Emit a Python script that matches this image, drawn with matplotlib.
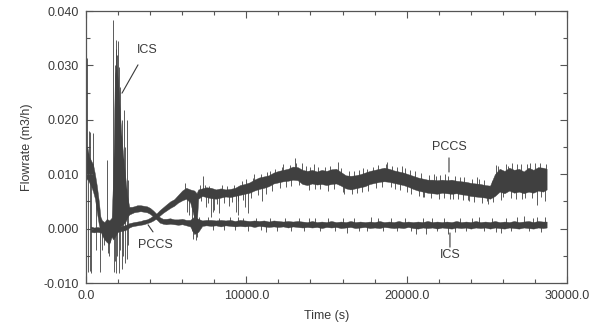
import numpy as np
import matplotlib
matplotlib.use('Agg')
import matplotlib.pyplot as plt
from matplotlib.ticker import MultipleLocator, FormatStrFormatter

# ICS band: time (s), lower and upper edge of the noisy trace (m3/h)
ics_t = [0, 80, 200, 320, 440, 560, 680, 800, 900, 1000, 1150, 1300, 1450, 1600,
         1700, 1800, 1900, 2000, 2100, 2200, 2300, 2400, 2500, 2600, 2700,
         2850, 3000, 3200, 3400, 3600, 3800, 4000, 4200, 4400, 4600, 4800,
         5000, 5250, 5500, 5750, 6000, 6250, 6500, 6750, 7000, 7250, 7500,
         7800, 8100, 8400, 8700, 9000, 9300, 9600, 9900, 10200, 10500, 10800,
         11100, 11400, 11700, 12000, 12300, 12600, 12900, 13200, 13500, 13800,
         14100, 14400, 14700, 15000, 15300, 15600, 15900, 16200, 16500, 16800,
         17100, 17400, 17700, 18000, 18300, 18600, 18900, 19200, 19500, 19800,
         20100, 20400, 20700, 21000, 21300, 21600, 21900, 22200, 22500, 22800,
         23100, 23400, 23700, 24000, 24300, 24600, 24900, 25200, 25500, 25800,
         26100, 26400, 26700, 27000, 27300, 27600, 27900, 28200, 28500, 28730]
ics_lo = [0.0088, 0.0092, 0.0085, 0.0078, 0.0068, 0.0055, 0.0030, 0.0008, -0.0004,
          -0.0012, -0.0020, -0.0025, -0.0028, -0.0015,
          -0.0020, -0.0015, -0.0010, -0.0005, 0.0000, 0.0005, 0.0008, 0.0010,
          0.0015, 0.0022, 0.0026,
          0.0028, 0.0030, 0.0031, 0.0032, 0.0031, 0.0030, 0.0027, 0.0022, 0.0017,
          0.0011, 0.0009,
          0.0008, 0.0009, 0.0008, 0.0007, 0.0008, 0.0006, 0.0004, -0.0010, -0.0006,
          0.0005, 0.0006,
          0.0005, 0.0006, 0.0004, 0.0006, 0.0005, 0.0004, 0.0005, 0.0004, 0.0005,
          0.0003, 0.0005, 0.0004, 0.0003, 0.0004, 0.0003, 0.0004, 0.0002, 0.0004,
          0.0003, 0.0002, 0.0003, 0.0002, 0.0003, 0.0001, 0.0003, 0.0002, 0.0003,
          0.0001, 0.0002, 0.0003, 0.0001, 0.0002, 0.0003, 0.0001, 0.0002, 0.0001,
          0.0003, 0.0002, 0.0001, 0.0002, 0.0001, 0.0003, 0.0001, 0.0000, 0.0002,
          0.0001, 0.0002, 0.0000, 0.0002, 0.0001, 0.0000, 0.0002, 0.0001, 0.0002,
          0.0000, 0.0002, 0.0001, 0.0002, 0.0000, 0.0002, 0.0001, 0.0000, 0.0002,
          0.0001, 0.0000, 0.0002, 0.0001, 0.0000, 0.0002, 0.0001, 0.0002]
ics_hi = [0.0140, 0.0150, 0.0132, 0.0125, 0.0118, 0.0100, 0.0078, 0.0050, 0.0022,
          0.0015, 0.0012, 0.0018, 0.0015, 0.0020,
          0.0100, 0.0280, 0.0300, 0.0270, 0.0220, 0.0175, 0.0140, 0.0110,
          0.0080, 0.0055, 0.0040,
          0.0040, 0.0041, 0.0043, 0.0043, 0.0042, 0.0041, 0.0038, 0.0033, 0.0027,
          0.0021, 0.0018,
          0.0018, 0.0019, 0.0017, 0.0017, 0.0018, 0.0016, 0.0016, 0.0022, 0.0018,
          0.0015, 0.0016,
          0.0016, 0.0015, 0.0016, 0.0015, 0.0016, 0.0014, 0.0016, 0.0015, 0.0014,
          0.0015, 0.0014, 0.0015, 0.0013, 0.0015, 0.0014, 0.0013, 0.0014, 0.0013,
          0.0014, 0.0013, 0.0012, 0.0014, 0.0012, 0.0013, 0.0012, 0.0014, 0.0012,
          0.0013, 0.0012, 0.0014, 0.0012, 0.0013, 0.0012, 0.0013, 0.0012, 0.0014,
          0.0012, 0.0013, 0.0012, 0.0014, 0.0012, 0.0013, 0.0012, 0.0013, 0.0012,
          0.0014, 0.0012, 0.0013, 0.0012, 0.0013, 0.0012, 0.0014, 0.0012, 0.0013,
          0.0012, 0.0014, 0.0012, 0.0013, 0.0012, 0.0014, 0.0012, 0.0013, 0.0012,
          0.0014, 0.0012, 0.0013, 0.0014, 0.0012, 0.0014, 0.0013, 0.0013]

# ICS spikes: time and peak value
ics_spike_t = [80, 200, 280, 420, 150, 250, 330, 620, 850, 1000, 1100, 1290, 1350,
               1420, 1480, 1715, 1780, 1850, 1900, 1960, 2000, 2050, 2150, 2250,
               2370, 2450, 2580, 2650, 1720, 1800, 1880, 1950, 2050, 2150, 2250,
               2330, 2450, 2550, 2620, 6650, 6750, 6850, 6950, 7050, 9500, 11200,
               13900, 16300, 17800, 20600, 21200, 22600, 24500, 25900, 27300, 28100,
               7600, 7900, 8300, 8600, 9000, 9300, 9800, 10100, 10600, 10900, 11500,
               11900, 12400, 12800, 13300, 13600, 14300, 14600, 15100, 15500, 16000,
               16700, 17000, 17500, 18200, 18500, 19000, 19400, 19900, 20300, 21000,
               21600, 21900, 22300, 23000, 23300, 23700, 24100, 24800, 25300, 25600,
               26200, 26500, 26900, 27600, 27900, 28400, 28650]
ics_spike_v = [0.0314, 0.0180, 0.0178, 0.0176, -0.0080, -0.0078, -0.0082, -0.0040,
               -0.0080, -0.0040, -0.0030, 0.0126, -0.0045, -0.0050, -0.0025,
               0.0383, 0.0300, 0.0330, 0.0347, 0.0320, 0.0345, 0.0297, 0.0260,
               0.0200, 0.0218, 0.0150, 0.0200, 0.0090, -0.0080, -0.0060, -0.0082,
               -0.0050, -0.0082, -0.0040, -0.0075, -0.0050, -0.0064, -0.0055,
               -0.0030, -0.0020, 0.0028, -0.0021, -0.0015, 0.0022, 0.0022, -0.0006,
               0.0020, -0.0008, 0.0021, -0.0010, -0.0009, -0.0010, 0.0021, -0.0008,
               0.0023, 0.0022,
               0.0021, -0.0002, 0.0020, -0.0003, 0.0021, -0.0002, 0.0020, -0.0004,
               0.0019, -0.0003, 0.0020, -0.0004, 0.0019, -0.0005, 0.0020, -0.0004,
               0.0019, -0.0005, 0.0020, -0.0004, 0.0019, 0.0020, -0.0005, -0.0004,
               0.0019, -0.0005, 0.0020, -0.0004, 0.0019, -0.0005, 0.0020, 0.0019,
               -0.0005, 0.0020, -0.0006, 0.0019, -0.0005, 0.0020, -0.0004, 0.0019,
               -0.0006, 0.0020, -0.0005, 0.0021, -0.0005, 0.0020, -0.0006, 0.0021]

# PCCS band
pccs_t = [300, 500, 700, 900, 1100, 1300, 1500, 1700, 1900, 2100, 2300, 2500, 2700,
          2850, 3000, 3200, 3400, 3600, 3800, 4000, 4200, 4400, 4600, 4800,
          5000, 5250, 5500, 5750, 6000, 6250, 6500, 6750, 6900, 7000, 7250, 7500,
          7800, 8100, 8400, 8700, 9000, 9300, 9600, 9900, 10200, 10500, 10800,
          11100, 11400, 11700, 12000, 12300, 12600, 12900, 13200, 13500, 13800,
          14100, 14400, 14700, 15000, 15300, 15600, 15900, 16200, 16500, 16800,
          17100, 17400, 17700, 18000, 18300, 18600, 18900, 19200, 19500, 19800,
          20100, 20400, 20700, 21000, 21300, 21600, 21900, 22200, 22500, 22800,
          23100, 23400, 23700, 24000, 24300, 24600, 24900, 25200, 25500, 25800,
          26100, 26400, 26700, 27000, 27300, 27600, 27900, 28200, 28500, 28730]
pccs_lo = [-0.0006, -0.0007, -0.0006, -0.0007, -0.0006, -0.0007, -0.0006, -0.0005,
           -0.0006, -0.0005, -0.0004, -0.0002, 0.0002,
           0.0004, 0.0005, 0.0006, 0.0007, 0.0008, 0.0010, 0.0012, 0.0015, 0.0019,
           0.0024, 0.0029,
           0.0033, 0.0038, 0.0042, 0.0048, 0.0052, 0.0055, 0.0048, 0.0020, 0.0005,
           0.0055, 0.0060, 0.0058,
           0.0056, 0.0055, 0.0057, 0.0059, 0.0058, 0.0060, 0.0062, 0.0064, 0.0066,
           0.0070, 0.0073, 0.0075, 0.0078, 0.0083, 0.0085, 0.0087, 0.0088, 0.0090,
           0.0089, 0.0082, 0.0080, 0.0083, 0.0081, 0.0082, 0.0080, 0.0082, 0.0083,
           0.0079, 0.0074, 0.0072, 0.0074, 0.0076, 0.0078, 0.0082, 0.0084, 0.0086,
           0.0087, 0.0086, 0.0084, 0.0082, 0.0080, 0.0077, 0.0073, 0.0070, 0.0068,
           0.0066, 0.0065, 0.0064, 0.0066, 0.0065, 0.0064, 0.0065, 0.0063, 0.0062,
           0.0060, 0.0059, 0.0058, 0.0057, 0.0055, 0.0060, 0.0068, 0.0065, 0.0070,
           0.0066, 0.0068, 0.0065, 0.0068, 0.0066, 0.0070, 0.0068, 0.0072]
pccs_hi = [0.0004, 0.0002, 0.0003, 0.0002, 0.0003, 0.0003, 0.0002, 0.0004, 0.0003,
           0.0004, 0.0005, 0.0007, 0.0010,
           0.0011, 0.0012, 0.0013, 0.0014, 0.0016, 0.0017, 0.0020, 0.0024, 0.0028,
           0.0034, 0.0039,
           0.0044, 0.0050, 0.0054, 0.0062, 0.0070, 0.0075, 0.0072, 0.0070, 0.0065,
           0.0072, 0.0074, 0.0076,
           0.0075, 0.0072, 0.0074, 0.0072, 0.0073, 0.0075, 0.0080, 0.0082, 0.0085,
           0.0090, 0.0094, 0.0096, 0.0098, 0.0103, 0.0106, 0.0108, 0.0110, 0.0114,
           0.0113, 0.0108, 0.0106, 0.0108, 0.0105, 0.0108, 0.0106, 0.0109, 0.0110,
           0.0104, 0.0098, 0.0097, 0.0098, 0.0100, 0.0103, 0.0106, 0.0108, 0.0110,
           0.0112, 0.0110, 0.0107, 0.0105, 0.0103, 0.0100, 0.0097, 0.0094, 0.0092,
           0.0090, 0.0090, 0.0089, 0.0090, 0.0089, 0.0090, 0.0088, 0.0087, 0.0086,
           0.0084, 0.0083, 0.0082, 0.0080, 0.0079, 0.0100, 0.0110, 0.0106, 0.0112,
           0.0108, 0.0110, 0.0105, 0.0112, 0.0108, 0.0113, 0.0112, 0.0110]

pccs_spike_t = [6150, 6300, 6450, 6600, 6800, 7320, 7500, 7800, 7900, 8000, 8300,
                8900, 9350, 9500, 9900, 10100, 10500, 11000, 11500, 12300, 13050,
                13500, 14200, 15700, 16000, 17300, 18800, 19700, 21000, 21700,
                22400, 22900, 23800, 24400, 25000, 25600, 25900, 26300, 26900,
                27200, 27700, 28130, 28300, 28600,
                7100, 7200, 7400, 7600, 7700, 8200, 8500, 8600, 8800, 9100, 9200,
                9450, 9700, 9800, 10000, 10300, 10400, 10700, 10900, 11200, 11300,
                11600, 11800, 12100, 12200, 12500, 12700, 12800, 13100, 13300, 13700,
                13900, 14000, 14300, 14500, 14600, 14900, 15100, 15200, 15450, 15900,
                16100, 16400, 16600, 16700, 16900, 17000, 17200, 17500, 17600, 17900,
                18100, 18200, 18450, 18700, 19000, 19100, 19300, 19400, 19600, 19900,
                20000, 20200, 20300, 20500, 20800, 20900, 21100, 21400, 21500, 21800,
                22000, 22100, 22300, 22600, 22700, 23000, 23200, 23300, 23500, 23600,
                23900, 24100, 24200, 24500, 24700, 24800, 25100, 25300, 25400, 25700,
                26000, 26200, 26500, 26600, 26800, 27100, 27400, 27500, 27800, 28000,
                28400, 28700]
pccs_spike_v = [0.0083, 0.0030, 0.0025, -0.0005, -0.0008, 0.0096, 0.0040, 0.0022,
                0.0030, 0.0035, 0.0028, 0.0042, 0.0030, 0.0025, 0.0040, 0.0028,
                0.0100, 0.0050, 0.0105, 0.0118, 0.0129, 0.0120, 0.0118, 0.0122,
                0.0068, 0.0112, 0.0122, 0.0116, 0.0058, 0.0100, 0.0100, 0.0055,
                0.0052, 0.0095, 0.0050, 0.0117, 0.0052, 0.0116, 0.0118, 0.0055,
                0.0120, 0.0043, 0.0120, 0.0050,
                0.0080, 0.0050, 0.0081, 0.0048, 0.0079, 0.0046, 0.0080, 0.0047,
                0.0079, 0.0049, 0.0081, 0.0051, 0.0087, 0.0053, 0.0091, 0.0057,
                0.0093, 0.0061, 0.0101, 0.0064, 0.0104, 0.0070, 0.0110, 0.0074,
                0.0113, 0.0077, 0.0117, 0.0079, 0.0120, 0.0080, 0.0115, 0.0071,
                0.0114, 0.0072, 0.0113, 0.0073, 0.0114, 0.0070, 0.0116, 0.0073,
                0.0112, 0.0064, 0.0105, 0.0063, 0.0106, 0.0065, 0.0108, 0.0067,
                0.0110, 0.0070, 0.0114, 0.0074, 0.0117, 0.0076, 0.0119, 0.0076,
                0.0116, 0.0073, 0.0113, 0.0071, 0.0111, 0.0068, 0.0108, 0.0064,
                0.0105, 0.0060, 0.0102, 0.0058, 0.0098, 0.0056, 0.0097, 0.0054,
                0.0098, 0.0056, 0.0097, 0.0055, 0.0096, 0.0055, 0.0095, 0.0053,
                0.0094, 0.0050, 0.0092, 0.0049, 0.0091, 0.0048, 0.0089, 0.0046,
                0.0088, 0.0049, 0.0115, 0.0058, 0.0118, 0.0056, 0.0120, 0.0055,
                0.0119, 0.0056, 0.0118, 0.0057, 0.0121, 0.0058, 0.0119]

ink = '#404040'
txt = '#3a3a3a'
plt.rcParams['font.family'] = ['Liberation Sans', 'DejaVu Sans']

fig = plt.figure(figsize=(5.91, 3.24), dpi=100)
ax = fig.add_axes([0.1455, 0.1265, 0.8139, 0.8395])


def draw_trace(t, lo, hi, st, sv):
    t = np.array(t); lo = np.array(lo); hi = np.array(hi)
    ax.fill_between(t, lo, hi, color=ink, lw=0.3, edgecolor=ink)
    base = np.interp(st, t, (lo + hi) / 2)
    ax.vlines(st, np.minimum(base, sv), np.maximum(base, sv), color=ink, lw=0.6)


draw_trace(ics_t, ics_lo, ics_hi, ics_spike_t, ics_spike_v)
draw_trace(pccs_t, pccs_lo, pccs_hi, pccs_spike_t, pccs_spike_v)

ax.set_xlim(0, 30000)
ax.set_ylim(-0.010, 0.040)
ax.xaxis.set_major_locator(MultipleLocator(10000))
ax.xaxis.set_minor_locator(MultipleLocator(2000))
ax.yaxis.set_major_locator(MultipleLocator(0.010))
ax.yaxis.set_minor_locator(MultipleLocator(0.005))
ax.xaxis.set_major_formatter(FormatStrFormatter('%.1f'))
ax.yaxis.set_major_formatter(FormatStrFormatter('%.3f'))
ax.tick_params(which='both', direction='in', top=True, right=True,
               color='#555555', labelcolor=txt, labelsize=9, width=0.8)
ax.tick_params(which='major', length=5, pad=5)
ax.tick_params(which='minor', length=3)
for s in ax.spines.values():
    s.set_color('#555555')
    s.set_linewidth(0.9)

ax.set_xlabel('Time (s)', fontsize=9, color=txt, labelpad=6)
ax.set_ylabel('Flowrate (m3/h)', fontsize=9, color=txt, labelpad=8)

# curve labels with leader lines
lead = dict(arrowstyle='-', color=txt, lw=0.8, shrinkA=0, shrinkB=0)
ax.text(3805, 0.0328, 'ICS', fontsize=9, color=txt, ha='center', va='center')
ax.annotate('', xy=(2245, 0.0249), xytext=(3243, 0.0301), arrowprops=lead)
ax.text(4300, -0.0030, 'PCCS', fontsize=9, color=txt, ha='center', va='center')
ax.annotate('', xy=(3870, 0.0007), xytext=(4180, -0.0006), arrowprops=lead)
ax.text(22640, 0.0150, 'PCCS', fontsize=9, color=txt, ha='center', va='center')
ax.annotate('', xy=(22640, 0.0104), xytext=(22640, 0.0130), arrowprops=lead)
ax.text(22700, -0.0048, 'ICS', fontsize=9, color=txt, ha='center', va='center')
ax.annotate('', xy=(22700, -0.0008), xytext=(22700, -0.0034), arrowprops=lead)

fig.savefig('out.png', dpi=100)
